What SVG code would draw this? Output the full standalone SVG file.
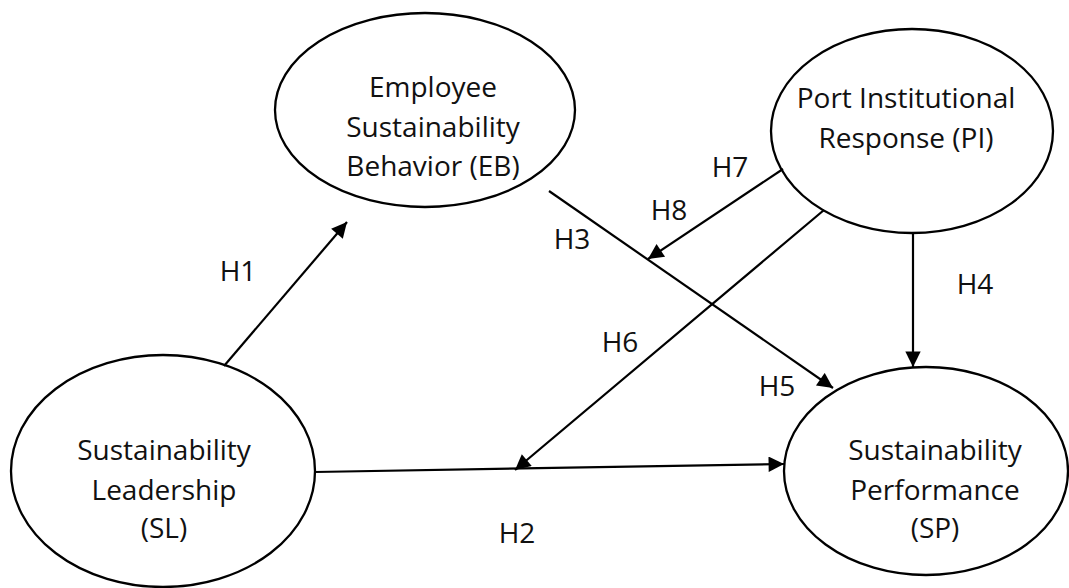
<svg xmlns="http://www.w3.org/2000/svg" width="1069" height="588" viewBox="0 0 1069 588">
  <style>
    .node { fill: #ffffff; stroke: #000000; stroke-width: 2.3; }
    .label { font-family: "Open Sans", "Noto Sans", sans-serif; font-size: 28px; fill: #111111; text-anchor: middle; }
    .hyp { font-family: "Open Sans", "Noto Sans", sans-serif; font-size: 28px; fill: #111111; text-anchor: middle; }
    .edge { stroke: #000000; stroke-width: 2.2; fill: none; marker-end: url(#arrow); }
  </style>
  <defs>
    <marker id="arrow" viewBox="0 0 10 10" refX="10" refY="5" markerWidth="8" markerHeight="7" markerUnits="strokeWidth" orient="auto">
      <path d="M0,0 L10,5 L0,10 z" fill="#000000"/>
    </marker>
  </defs>
  <rect width="1069" height="588" fill="#ffffff"/>

  <!-- Employee Sustainability Behavior -->
  <g id="node-eb">
    <ellipse class="node" cx="425" cy="110" rx="150" ry="97"/>
    <text class="label" x="433" y="97">Employee</text>
    <text class="label" x="433" y="137">Sustainability</text>
    <text class="label" x="433" y="176">Behavior (EB)</text>
  </g>

  <!-- Port Institutional Response -->
  <g id="node-pi">
    <ellipse class="node" cx="912" cy="131" rx="141" ry="102"/>
    <text class="label" x="906" y="108">Port Institutional</text>
    <text class="label" x="906" y="148">Response (PI)</text>
  </g>

  <!-- Sustainability Leadership -->
  <g id="node-sl">
    <ellipse class="node" cx="163" cy="471" rx="152" ry="116"/>
    <text class="label" x="164" y="460">Sustainability</text>
    <text class="label" x="164" y="500">Leadership</text>
    <text class="label" x="164" y="538">(SL)</text>
  </g>

  <!-- Sustainability Performance -->
  <g id="node-sp">
    <ellipse class="node" cx="926" cy="471" rx="142" ry="104"/>
    <text class="label" x="935" y="460">Sustainability</text>
    <text class="label" x="935" y="500">Performance</text>
    <text class="label" x="935" y="538">(SP)</text>
  </g>

  <g id="connectors">
    <line class="edge" x1="224" y1="366" x2="347" y2="222"/>
    <line class="edge" x1="315" y1="472" x2="784" y2="464"/>
    <line class="edge" x1="549" y1="191" x2="833" y2="388"/>
    <line class="edge" x1="913" y1="233" x2="913" y2="367"/>
    <line class="edge" x1="824" y1="210" x2="515" y2="470"/>
    <line class="edge" x1="783" y1="169" x2="648" y2="259"/>
  </g>

  <g id="hypothesis-labels">
    <text class="hyp" x="238" y="281">H1</text>
    <text class="hyp" x="517" y="543">H2</text>
    <text class="hyp" x="572" y="249">H3</text>
    <text class="hyp" x="975" y="294">H4</text>
    <text class="hyp" x="777" y="396">H5</text>
    <text class="hyp" x="620" y="352">H6</text>
    <text class="hyp" x="730" y="177">H7</text>
    <text class="hyp" x="669" y="220">H8</text>
  </g>
</svg>
